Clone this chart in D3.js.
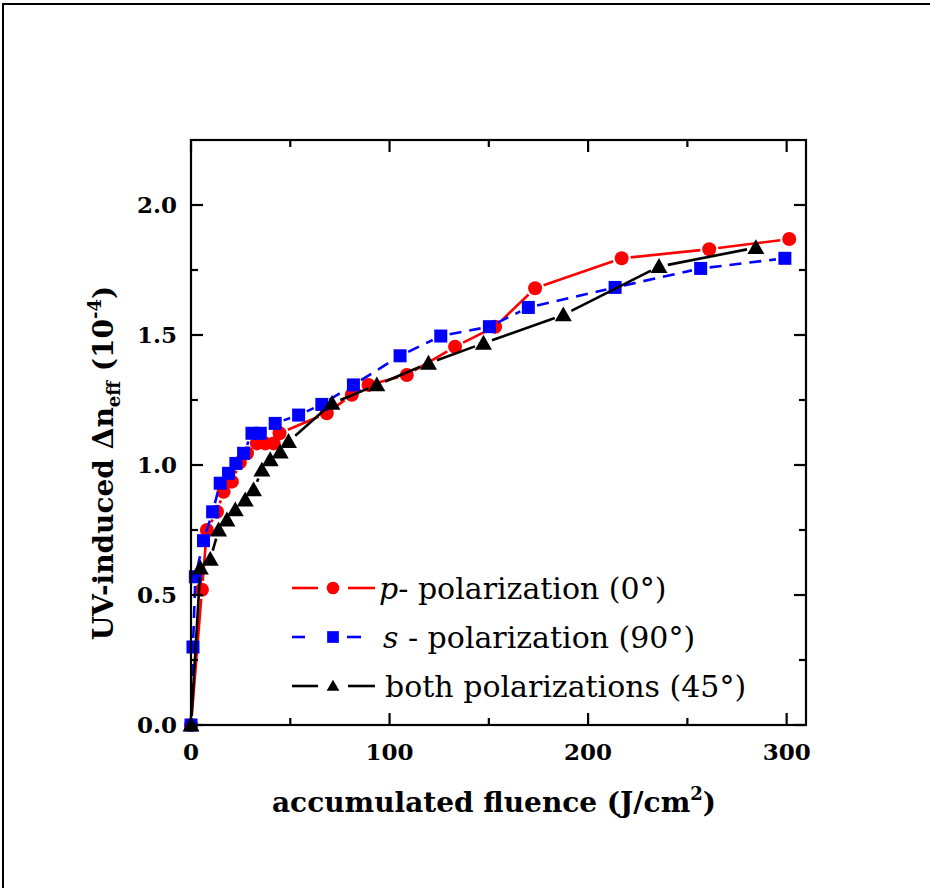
<!DOCTYPE html>
<html>
<head>
<meta charset="utf-8">
<script src="https://cdn.jsdelivr.net/npm/d3@7"></script>
<style>
  html, body { margin: 0; padding: 0; background: #fff; }
  svg { display: block; }
  text { font-family: "DejaVu Serif", "Liberation Serif", serif; }
</style>
</head>
<body>
<svg id="chart" width="930" height="888"></svg>
<script>
// ---- data ----
const pX = [0, 5.5, 8.0, 13.1, 16.4, 20.6, 24.6, 28.2, 33.2, 37.4, 41.6, 44.6, 68.4, 81.0, 89.4, 108.7, 133.0, 153.2, 173.3, 216.9, 261.0, 301.3];
const pY = [0, 0.52, 0.75, 0.82, 0.897, 0.936, 1.01, 1.045, 1.083, 1.083, 1.083, 1.122, 1.199, 1.27, 1.308, 1.346, 1.455, 1.532, 1.68, 1.795, 1.83, 1.869];

const sX = [0, 1.0, 2.2, 6.3, 10.9, 14.7, 18.9, 22.6, 26.5, 30.7, 34.9, 42.4, 54.2, 65.9, 81.8, 105.3, 125.8, 150.3, 169.9, 213.6, 256.7, 299.1];
const sY = [0, 0.30, 0.57, 0.709, 0.82, 0.93, 0.968, 1.006, 1.045, 1.122, 1.122, 1.16, 1.192, 1.233, 1.308, 1.42, 1.496, 1.532, 1.606, 1.683, 1.756, 1.795];

const bX = [0, 4.7, 9.7, 13.9, 18.1, 22.3, 27.3, 31.5, 35.7, 39.9, 44.9, 49.1, 71.0, 93.6, 119.6, 147.3, 187.5, 235.7, 284.5];
const bY = [0, 0.603, 0.637, 0.75, 0.788, 0.827, 0.865, 0.904, 0.98, 1.02, 1.05, 1.09, 1.237, 1.308, 1.391, 1.468, 1.577, 1.763, 1.836];

const xMajor = [0, 100, 200, 300];
const xMinor = [50, 150, 250];
const yMajor = [0, 0.5, 1.0, 1.5, 2.0];
const yMinor = [0.25, 0.75, 1.25, 1.75];
const yLabels = ["0.0", "0.5", "1.0", "1.5", "2.0"];

const legendLabels = [
  {pre: "p", rest: "- polarization (0°)"},
  {pre: "s", rest: " - polarization (90°)"},
  {pre: "", rest: "both polarizations (45°)"}
];

// ---- layout ----
const svg = d3.select("#chart");
const L = 191, R = 806, T = 140, B = 725;
const x = d3.scaleLinear().domain([0, 310]).range([L, L + 310 * 1.9855]);
const y = d3.scaleLinear().domain([0, 2.25]).range([B, T]);

// frame (only left/top edges visible)
svg.append("rect").attr("x", 3).attr("y", 4).attr("width", 960).attr("height", 920)
  .attr("fill", "none").attr("stroke", "#000").attr("stroke-width", 2);

const gData = svg.append("g");
const GAP = 9;

function series(xs, ys, color, dash, shape) {
  const pts = xs.map((v, i) => [x(v), y(ys[i])]);
  const g = gData.append("g");
  for (let i = 0; i < pts.length - 1; i++) {
    const [x1, y1] = pts[i], [x2, y2] = pts[i + 1];
    const dx = x2 - x1, dy = y2 - y1, len = Math.hypot(dx, dy);
    if (len <= 2 * GAP + 1) continue;
    const ux = dx / len, uy = dy / len;
    g.append("line")
      .attr("x1", x1 + ux * GAP).attr("y1", y1 + uy * GAP)
      .attr("x2", x2 - ux * GAP).attr("y2", y2 - uy * GAP)
      .attr("stroke", color).attr("stroke-width", 2.6)
      .attr("stroke-dasharray", dash || null);
  }
  const gm = gData.append("g");
  pts.forEach(d => drawMarker(gm, d[0], d[1], shape, color));
}

function drawMarker(g, cx, cy, shape, color, scale) {
  const s = scale || 1;
  if (shape === "circle") {
    g.append("circle").attr("cx", cx).attr("cy", cy).attr("r", 7 * s).attr("fill", color);
  } else if (shape === "square") {
    const h = 6.5 * s;
    g.append("rect").attr("x", cx - h).attr("y", cy - h).attr("width", 2 * h).attr("height", 2 * h).attr("fill", color);
  } else {
    const h = 8.5 * s;
    g.append("path").attr("d", `M${cx},${cy - h}L${cx + h},${cy + h * 0.75}L${cx - h},${cy + h * 0.75}Z`).attr("fill", color);
  }
}

series(pX, pY, "#ff0000", null, "circle");
series(sX, sY, "#0000ff", "12,8", "square");
series(bX, bY, "#000000", null, "triangle");

// ---- axes ----
const ax = svg.append("g").attr("stroke", "#000").attr("stroke-width", 2.2);
ax.append("rect").attr("x", L).attr("y", T).attr("width", R - L).attr("height", B - T).attr("fill", "none");

const MAJ = 12, MIN = 7;
xMajor.forEach(v => {
  ax.append("line").attr("x1", x(v)).attr("x2", x(v)).attr("y1", B).attr("y2", B - MAJ);
  ax.append("line").attr("x1", x(v)).attr("x2", x(v)).attr("y1", T).attr("y2", T + MAJ);
});
xMinor.forEach(v => {
  ax.append("line").attr("x1", x(v)).attr("x2", x(v)).attr("y1", B).attr("y2", B - MIN);
  ax.append("line").attr("x1", x(v)).attr("x2", x(v)).attr("y1", T).attr("y2", T + MIN);
});
yMajor.forEach(v => {
  ax.append("line").attr("x1", L).attr("x2", L + MAJ).attr("y1", y(v)).attr("y2", y(v));
  ax.append("line").attr("x1", R).attr("x2", R - MAJ).attr("y1", y(v)).attr("y2", y(v));
});
yMinor.forEach(v => {
  ax.append("line").attr("x1", L).attr("x2", L + MIN).attr("y1", y(v)).attr("y2", y(v));
  ax.append("line").attr("x1", R).attr("x2", R - MIN).attr("y1", y(v)).attr("y2", y(v));
});

// tick labels
svg.append("g").selectAll("text").data(xMajor).join("text")
  .attr("x", d => x(d)).attr("y", 760).attr("text-anchor", "middle")
  .attr("font-size", 23).attr("font-weight", "bold").text(d => d);
svg.append("g").selectAll("text").data(yMajor).join("text")
  .attr("x", 177).attr("y", d => y(d) + 8).attr("text-anchor", "end")
  .attr("font-size", 23).attr("font-weight", "bold").text((d, i) => yLabels[i]);

// axis titles
const xt = svg.append("text").attr("x", 494).attr("y", 812).attr("text-anchor", "middle")
  .attr("font-size", 28).attr("font-weight", "bold");
xt.append("tspan").text("accumulated fluence (J/cm");
xt.append("tspan").attr("font-size", 18).attr("dy", -12).text("2");
xt.append("tspan").attr("dy", 12).text(")");

const yt = svg.append("text").attr("transform", "translate(113,463) rotate(-90)")
  .attr("text-anchor", "middle").attr("font-size", 28).attr("font-weight", "bold");
yt.append("tspan").text("UV-induced Δn");
yt.append("tspan").attr("font-size", 18).attr("dy", 7).text("eff");
yt.append("tspan").attr("dy", -7).text(" (10");
yt.append("tspan").attr("font-size", 18).attr("dy", -12).text("-4");
yt.append("tspan").attr("dy", 12).text(")");

// ---- legend ----
const legY = [588, 637, 686];
const legColors = ["#ff0000", "#0000ff", "#000000"];
const legShapes = ["circle", "square", "triangle"];
const lg = svg.append("g");
legY.forEach((ly, i) => {
  const c = legColors[i];
  if (i === 1) {
    lg.append("line").attr("x1", 292).attr("x2", 305).attr("y1", ly).attr("y2", ly).attr("stroke", c).attr("stroke-width", 2.6);
    lg.append("line").attr("x1", 347).attr("x2", 361).attr("y1", ly).attr("y2", ly).attr("stroke", c).attr("stroke-width", 2.6);
  } else {
    lg.append("line").attr("x1", 292).attr("x2", 318).attr("y1", ly).attr("y2", ly).attr("stroke", c).attr("stroke-width", 2.6);
    lg.append("line").attr("x1", 348).attr("x2", 375).attr("y1", ly).attr("y2", ly).attr("stroke", c).attr("stroke-width", 2.6);
  }
  drawMarker(lg, 333, ly, legShapes[i], c, i === 2 ? 0.75 : 0.9);
  const t = lg.append("text").attr("x", i === 0 ? 379 : (i === 1 ? 383 : 385)).attr("y", ly + 11)
    .attr("font-size", 30).attr("fill", "#000");
  if (legendLabels[i].pre) t.append("tspan").attr("font-style", "italic").text(legendLabels[i].pre);
  t.append("tspan").text(legendLabels[i].rest);
});
</script>
</body>
</html>
